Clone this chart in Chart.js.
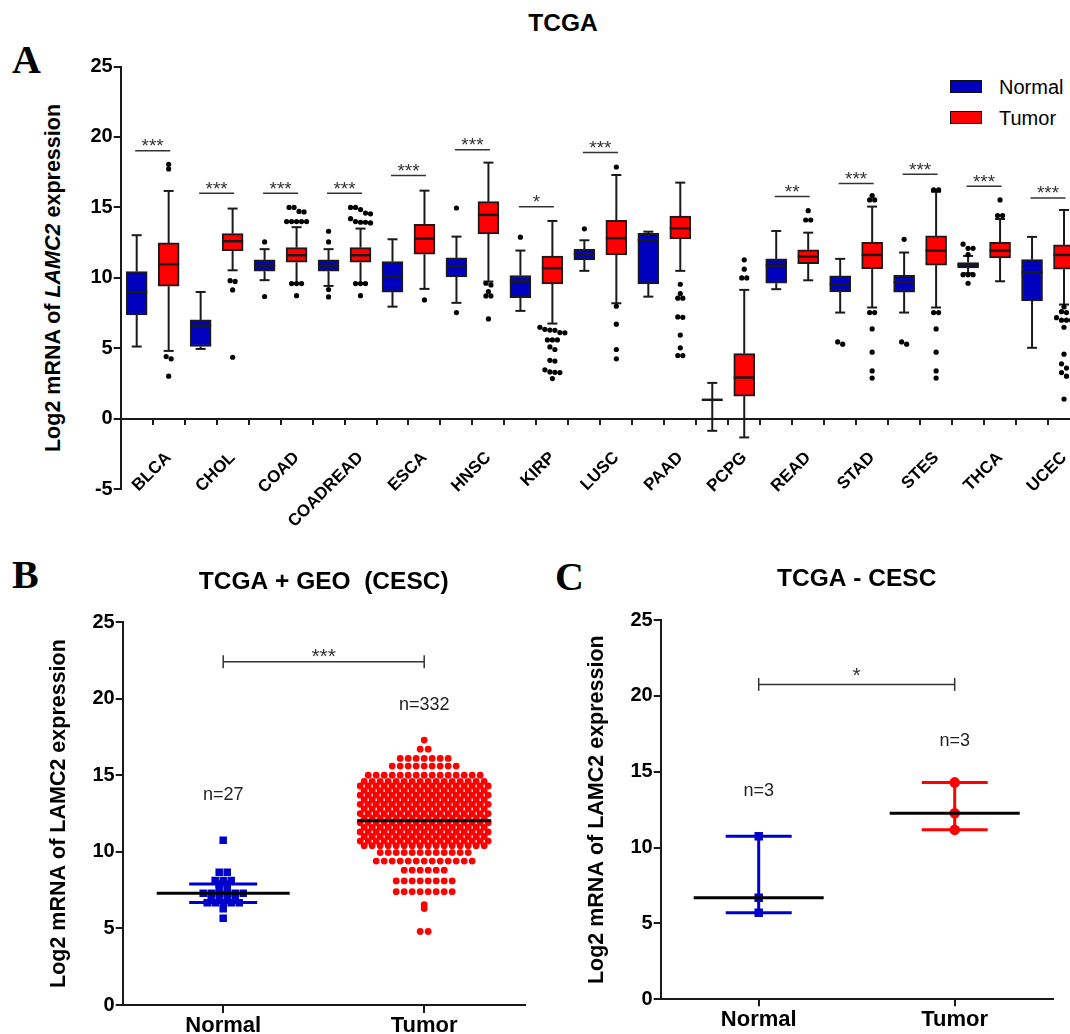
<!DOCTYPE html>
<html>
<head>
<meta charset="utf-8">
<script src="https://cdn.jsdelivr.net/npm/chart.js@4.4.1/dist/chart.umd.min.js"></script>
<style>
  html, body { margin: 0; padding: 0; background: #fff; width: 1070px; height: 1034px; overflow: hidden; }
  body { position: relative; font-family: "Liberation Sans", Arial, sans-serif; color: #000; }
  .box { position: absolute; }
  .txt { position: absolute; white-space: nowrap; line-height: 1; }
  .letter { font-family: "Liberation Serif", "Times New Roman", serif; font-weight: bold; font-size: 40px; }
  .ylab { font-weight: bold; font-size: 21.5px; transform: translate(-50%, -50%) rotate(-90deg); }
  .leg { position: absolute; width: 30px; height: 11px; border: 1px solid #111; }
  .legtxt { position: absolute; font-size: 20px; line-height: 1; }
</style>
</head>
<body>
<div class="txt letter" style="left:12px;top:40px;">A</div>
<div class="txt" style="left:563px;top:23px;font-weight:bold;font-size:24.5px;transform:translate(-50%,-50%);">TCGA</div>
<div class="txt ylab" style="left:54px;top:278px;">Log2 mRNA of <i>LAMC2</i> expression</div>
<div class="leg" style="left:950px;top:80px;background:#0000bf;"></div>
<div class="leg" style="left:950px;top:111px;background:#ff0000;"></div>
<div class="legtxt" style="left:999px;top:77px;">Normal</div>
<div class="legtxt" style="left:999px;top:108px;">Tumor</div>
<div class="txt letter" style="left:12px;top:555px;">B</div>
<div class="txt letter" style="left:555px;top:557px;">C</div>

<div class="box" style="left:0;top:0;"><canvas id="chartA" width="1084" height="545"></canvas></div>
<div class="box" style="left:0;top:555px;"><canvas id="chartB" width="540" height="500"></canvas></div>
<div class="box" style="left:540px;top:555px;"><canvas id="chartC" width="530" height="500"></canvas></div>

<script>
// ---------- A: TCGA box plots ----------
const cancerTypes = ["BLCA", "CHOL", "COAD", "COADREAD", "ESCA", "HNSC", "KIRP", "LUSC",
  "PAAD", "PCPG", "READ", "STAD", "STES", "THCA", "UCEC"];

const normalMin    = [5.13, 4.96, 9.84, 9.43, 7.96, 8.23, 7.66, 10.5, 8.67, -0.85, 9.2, 7.54, 7.54, 10.33, 5.04];
const normalQ1     = [7.38, 5.13, 10.47, 10.47, 8.99, 10.07, 8.6, 11.28, 9.57, 1.35, 9.62, 9.0, 8.99, 10.71, 8.37];
const normalMedian = [8.99, 6.62, 10.87, 10.87, 10.09, 10.83, 9.74, 11.68, 12.67, 1.35, 10.87, 9.53, 9.69, 10.92, 10.4];
const normalQ3     = [10.45, 7.02, 11.28, 11.28, 11.16, 11.42, 10.17, 12.04, 13.17, 1.35, 11.35, 10.14, 10.19, 11.09, 11.3];
const normalMax    = [13.03, 9.0, 12.04, 12.04, 12.74, 12.93, 11.94, 12.67, 13.28, 2.55, 13.33, 11.35, 11.8, 11.56, 12.91];

const tumorMin    = [4.82, 10.54, 9.62, 9.62, 9.22, 9.74, 6.76, 8.2, 10.5, -1.32, 9.83, 7.9, 7.9, 9.76, 8.11];
const tumorQ1     = [9.41, 11.94, 11.11, 11.11, 11.68, 13.12, 9.57, 11.63, 12.77, 1.61, 11.01, 10.66, 10.9, 11.42, 10.62];
const tumorMedian = [10.97, 12.6, 11.61, 11.61, 12.79, 14.47, 10.69, 12.82, 13.52, 2.93, 11.51, 11.63, 11.94, 11.94, 11.63];
const tumorQ3     = [12.48, 13.14, 12.15, 12.15, 13.8, 15.41, 11.54, 14.09, 14.38, 4.63, 11.99, 12.53, 12.98, 12.53, 12.34];
const tumorMax    = [16.17, 14.92, 13.6, 13.5, 16.19, 18.18, 14.04, 17.3, 16.76, 9.15, 13.21, 15.06, 16.12, 14.18, 14.82];

const normalOutliers = [
  [], [], [12.55, 8.68], [13.31, 12.55, 9.17, 8.65], [], [14.96, 7.54], [12.89], [13.48],
  [], [], [], [5.46, 5.3], [12.74, 5.46, 5.3], [12.39, 12.1, 12.1, 11.65, 10.23, 10.23, 10.23, 9.62], [],
];
const tumorOutliers = [
  [18.06, 17.73, 4.42, 4.26, 3.03],
  [9.8, 9.75, 9.15, 4.37],
  [15.0, 15.0, 14.72, 14.68, 14.0, 14.0, 14.0, 14.0, 14.0, 9.6, 9.6, 9.6, 8.74],
  [15.0, 15.0, 14.85, 14.6, 14.55, 14.2, 14.0, 13.95, 13.95, 13.9, 9.6, 9.6, 9.6, 8.74],
  [8.44],
  [9.62, 9.5, 9.03, 8.72, 8.72, 7.09],
  [6.5, 6.35, 6.3, 6.28, 6.12, 6.1, 5.6, 5.6, 5.6, 5.1, 4.92, 4.15, 4.1, 3.48, 3.33, 3.3, 3.28, 2.86],
  [17.87, 7.99, 6.72, 4.92, 4.26],
  [9.55, 8.89, 8.56, 8.56, 7.23, 7.2, 5.94, 5.04, 4.49, 4.49],
  [11.28, 10.62, 10.0, 10.0],
  [14.77, 14.11, 14.11],
  [15.84, 15.53, 15.53, 7.54, 7.54, 6.38, 4.73, 3.4, 2.89],
  [16.24, 16.24, 7.54, 7.54, 6.38, 4.73, 3.4, 2.89],
  [15.53, 14.42, 14.42],
  [7.94, 7.6, 7.54, 7.18, 7.0, 7.0, 7.0, 6.5, 4.59, 3.9, 3.6, 3.28, 3.03, 1.4],
];

const sigMarks = ["***", "***", "***", "***", "***", "***", "*", "***", "", "", "**", "***", "***", "***", "***"];
const sigLevel = [19.03, 16.0, 16.0, 16.0, 17.26, 19.1, 15.04, 18.9, null, null, 15.77, 16.7, 17.35, 16.5, 15.67];

// ---------- B: TCGA + GEO (CESC) dot plot ----------
const bGroups = ["Normal", "Tumor"];
const bNormalLevels = [10.75, 8.66, 8.13, 7.9, 7.6, 7.3, 6.95, 6.68, 6.28, 5.67];
const bNormalCounts = [1, 2, 3, 2, 2, 6, 4, 5, 1, 1];
const bTumorLevels = [17.3, 16.7, 16.1, 15.6, 15.0, 14.6, 14.3, 14.0, 13.7, 13.4, 13.1, 12.8, 12.5, 12.2,
  11.9, 11.6, 11.3, 11.0, 10.7, 10.4, 9.95, 9.4, 8.8, 8.1, 7.4, 6.55, 6.3, 4.8];
const bTumorCounts = [1, 2, 7, 9, 15, 16, 17, 16, 17, 16, 17, 16, 17, 16,
  17, 16, 17, 16, 17, 16, 12, 13, 6, 8, 8, 1, 1, 2];
const bNormalMedian = 7.3;
const bNormalIQR = [6.7, 7.9];
const bTumorMedian = 12.03;
const bNLabels = ["n=27", "n=332"];
const bNLabelY = [13.7, 19.6];
const bSig = "***";
const bSigY = 22.41;

// ---------- C: TCGA - CESC ----------
const cGroups = ["Normal", "Tumor"];
const cNormal = [10.75, 6.7, 5.7];
const cTumor = [14.3, 12.27, 11.17];
const cNLabels = ["n=3", "n=3"];
const cNLabelY = [13.76, 17.0];
const cSig = "*";
const cSigY = 20.76;

// ---------- styles ----------
const BLUE = "#0000bf";
const DOT_BLUE = "#0000cc";
const RED = "#ff0000";
const INK = "#1a1a1a";
const FONT = "'Liberation Sans', Arial, sans-serif";

Chart.defaults.font.family = FONT;
Chart.defaults.color = "#000";
Chart.defaults.animation = false;
Chart.defaults.plugins.legend.display = false;
Chart.defaults.plugins.tooltip.enabled = false;

function seg(ctx, x1, y1, x2, y2) {
  ctx.beginPath();
  ctx.moveTo(x1, y1);
  ctx.lineTo(x2, y2);
  ctx.stroke();
}

function median(arr) {
  const s = [...arr].sort((a, b) => a - b);
  const m = Math.floor(s.length / 2);
  return s.length % 2 ? s[m] : (s[m - 1] + s[m]) / 2;
}

// outliers that sit at nearly the same value are put side by side
function dodge(values, pos, unitPerPx) {
  const out = [];
  const sorted = [...values].sort((a, b) => b - a);
  let i = 0;
  while (i < sorted.length) {
    let j = i;
    while (j + 1 < sorted.length && sorted[j] - sorted[j + 1] < 0.3) j++;
    const n = j - i + 1;
    for (let k = 0; k < n; k++) {
      out.push({ x: pos + (k - (n - 1) / 2) * 5 * unitPerPx, y: sorted[i + k] });
    }
    i = j + 1;
  }
  return out;
}

// rows of dots centred on the group position
function rows(levels, counts, pos, gapPx, unitPerPx) {
  const out = [];
  levels.forEach((v, r) => {
    const n = counts[r];
    for (let k = 0; k < n; k++) {
      out.push({ x: pos + (k - (n - 1) / 2) * gapPx * unitPerPx, y: v });
    }
  });
  return out;
}

function axisY(width, min, max, extra) {
  return Object.assign({
    type: "linear", min, max,
    afterFit: (s) => { s.width = width; },
    ticks: { stepSize: 5, padding: 1, font: { size: 20, weight: "bold" }, color: "#000" },
    grid: { drawOnChartArea: false, drawTicks: true, tickLength: 7, color: INK, lineWidth: 2 },
    border: { display: true, color: INK, width: 2 },
  }, extra || {});
}

// ---------- chart A ----------
const boxParts = {
  id: "boxParts",
  beforeDatasetsDraw(chart) {
    const { ctx, scales: { x, y } } = chart;
    ctx.save();
    ctx.strokeStyle = INK;
    ctx.lineWidth = 2;
    cancerTypes.forEach((c, i) => {
      [[2 * i, normalMin[i], normalQ1[i], normalQ3[i], normalMax[i]],
       [2 * i + 1, tumorMin[i], tumorQ1[i], tumorQ3[i], tumorMax[i]]].forEach(([pos, lo, q1, q3, hi]) => {
        const px = x.getPixelForValue(pos);
        seg(ctx, px, y.getPixelForValue(q3), px, y.getPixelForValue(hi));
        seg(ctx, px, y.getPixelForValue(q1), px, y.getPixelForValue(lo));
        seg(ctx, px - 5, y.getPixelForValue(hi), px + 5, y.getPixelForValue(hi));
        seg(ctx, px - 5, y.getPixelForValue(lo), px + 5, y.getPixelForValue(lo));
      });
    });
    ctx.restore();
  },
  afterDatasetsDraw(chart) {
    const { ctx, scales: { x, y } } = chart;
    ctx.save();
    ctx.strokeStyle = INK;
    ctx.lineWidth = 2.5;
    cancerTypes.forEach((c, i) => {
      [[2 * i, normalMedian[i]], [2 * i + 1, tumorMedian[i]]].forEach(([pos, m]) => {
        const px = x.getPixelForValue(pos);
        const py = y.getPixelForValue(m);
        seg(ctx, px - 10.5, py, px + 10.5, py);
      });
    });
    ctx.strokeStyle = "#333";
    ctx.fillStyle = "#333";
    ctx.lineWidth = 1.5;
    ctx.font = "19px " + FONT;
    ctx.textAlign = "center";
    ctx.textBaseline = "alphabetic";
    cancerTypes.forEach((c, i) => {
      if (sigLevel[i] == null) return;
      const cx = x.getPixelForValue(2 * i + 0.5);
      const py = y.getPixelForValue(sigLevel[i]);
      seg(ctx, cx - 17.5, py, cx + 17.5, py);
      ctx.fillText(sigMarks[i], cx, py + 1.5);
    });
    ctx.restore();
  },
};

const chartA = new Chart(document.getElementById("chartA"), {
  type: "bar",
  data: {
    datasets: [
      {
        label: "Normal",
        data: cancerTypes.map((c, i) => ({ x: 2 * i, y: [normalQ1[i], normalQ3[i]] })),
        backgroundColor: BLUE, borderColor: INK, borderWidth: 2, borderSkipped: false,
        barThickness: 21, grouped: false,
      },
      {
        label: "Tumor",
        data: cancerTypes.map((c, i) => ({ x: 2 * i + 1, y: [tumorQ1[i], tumorQ3[i]] })),
        backgroundColor: RED, borderColor: INK, borderWidth: 2, borderSkipped: false,
        barThickness: 21, grouped: false,
      },
      { type: "scatter", label: "outliers", data: [], pointRadius: 2.6, pointBackgroundColor: "#000", pointBorderWidth: 0 },
    ],
  },
  options: {
    responsive: false,
    layout: { padding: { left: 0, top: 66.5, right: 3, bottom: 55.7 } },
    scales: {
      x: {
        type: "linear", min: -0.5, max: 29.5, offset: false, position: { y: 0 },
        afterBuildTicks: (s) => { s.ticks = cancerTypes.flatMap((c, i) => [{ value: 2 * i }, { value: 2 * i + 1 }]); },
        afterFit: (s) => { s.paddingLeft = 0; s.paddingRight = 0; },
        ticks: {
          autoSkip: false, minRotation: 45, maxRotation: 45, padding: 24,
          font: { size: 17, weight: "bold" }, color: "#000",
          callback: (v, idx) => (idx % 2 === 1 ? cancerTypes[(idx - 1) / 2] : ""),
        },
        grid: { drawOnChartArea: false, drawTicks: true, tickLength: 5, color: INK, lineWidth: 2 },
        border: { display: true, color: INK, width: 2 },
      },
      y: axisY(120.7, -5, 25),
    },
  },
  plugins: [boxParts],
});

{
  const sx = chartA.scales.x;
  const upp = 1 / (sx.getPixelForValue(1) - sx.getPixelForValue(0));
  chartA.data.datasets[2].data = cancerTypes.flatMap((c, i) => [
    ...dodge(normalOutliers[i], 2 * i, upp),
    ...dodge(tumorOutliers[i], 2 * i + 1, upp),
  ]);
  chartA.update("none");
}

// ---------- shared helpers for B and C ----------
function annotations(id, labels, labelY, sig, sigY, sigDrop) {
  return {
    id,
    afterDatasetsDraw(chart) {
      const { ctx, scales: { x, y } } = chart;
      ctx.save();
      ctx.fillStyle = "#222";
      ctx.font = "18px " + FONT;
      ctx.textAlign = "center";
      ctx.textBaseline = "middle";
      labels.forEach((t, i) => ctx.fillText(t, x.getPixelForValue(i), y.getPixelForValue(labelY[i])));
      const x0 = x.getPixelForValue(0), x1 = x.getPixelForValue(1), py = y.getPixelForValue(sigY);
      ctx.strokeStyle = "#333";
      ctx.lineWidth = 1.5;
      seg(ctx, x0, py, x1, py);
      seg(ctx, x0, py - 6.5, x0, py + 6.5);
      seg(ctx, x1, py - 6.5, x1, py + 6.5);
      ctx.fillStyle = "#333";
      ctx.font = "21px " + FONT;
      ctx.textBaseline = "alphabetic";
      ctx.fillText(sig, (x0 + x1) / 2, py + sigDrop);
      ctx.restore();
    },
  };
}

function groupAxisX(names, tickLen) {
  return {
    type: "linear", min: -0.5, max: 1.5, offset: false,
    afterBuildTicks: (s) => { s.ticks = names.map((n, i) => ({ value: i })); },
    afterFit: (s) => { s.height = 30; s.paddingLeft = 0; s.paddingRight = 0; },
    ticks: { autoSkip: false, maxRotation: 0, padding: 0, font: { size: 22, weight: "bold" }, color: "#000",
      callback: (v, idx) => names[idx] },
    grid: { drawOnChartArea: false, drawTicks: true, tickLength: tickLen, color: INK, lineWidth: 2 },
    border: { display: true, color: INK, width: 2 },
  };
}

function yTitle(pad) {
  return { display: true, text: "Log2 mRNA of LAMC2 expression", color: "#000",
    font: { size: 21.5, weight: "bold" }, padding: { top: pad, bottom: 0 } };
}

// ---------- chart B ----------
const bLines = {
  id: "bLines",
  afterDatasetsDraw(chart) {
    const { ctx, scales: { x, y } } = chart;
    ctx.save();
    ctx.lineWidth = 3;
    ctx.strokeStyle = DOT_BLUE;
    const nx = x.getPixelForValue(0), tx = x.getPixelForValue(1);
    bNormalIQR.forEach((v) => seg(ctx, nx - 34, y.getPixelForValue(v), nx + 34, y.getPixelForValue(v)));
    ctx.strokeStyle = "#000";
    seg(ctx, nx - 66.5, y.getPixelForValue(bNormalMedian), nx + 66.5, y.getPixelForValue(bNormalMedian));
    seg(ctx, tx - 67, y.getPixelForValue(bTumorMedian), tx + 67, y.getPixelForValue(bTumorMedian));
    ctx.restore();
  },
};

const chartB = new Chart(document.getElementById("chartB"), {
  type: "scatter",
  data: {
    datasets: [
      { label: "Normal", data: [], pointStyle: "rect", pointRadius: 5.3, pointBackgroundColor: DOT_BLUE, pointBorderWidth: 0 },
      { label: "Tumor", data: [], pointStyle: "circle", pointRadius: 3.4, pointBackgroundColor: RED, pointBorderWidth: 0 },
    ],
  },
  options: {
    responsive: false,
    layout: { padding: { left: 0, top: 0, right: 15.3, bottom: 20 } },
    plugins: {
      title: { display: true, text: "TCGA + GEO  (CESC)", fullSize: false, color: "#000",
        font: { size: 24.5, weight: "bold" }, padding: { top: 12.7, bottom: 25 } },
    },
    scales: {
      x: groupAxisX(bGroups, 8),
      y: axisY(122.7, 0, 25, { title: yTitle(46) }),
    },
  },
  plugins: [bLines, annotations("bNotes", bNLabels, bNLabelY, bSig, bSigY, 1)],
});

{
  const sx = chartB.scales.x;
  const upp = 1 / (sx.getPixelForValue(1) - sx.getPixelForValue(0));
  chartB.data.datasets[0].data = rows(bNormalLevels, bNormalCounts, 0, 8, upp);
  chartB.data.datasets[1].data = rows(bTumorLevels, bTumorCounts, 1, 8, upp);
  chartB.update("none");
}

// ---------- chart C ----------
const cLines = {
  id: "cLines",
  beforeDatasetsDraw(chart) {
    const { ctx, scales: { x, y } } = chart;
    ctx.save();
    ctx.lineWidth = 3;
    [[cNormal, 0, DOT_BLUE], [cTumor, 1, RED]].forEach(([vals, pos, col]) => {
      const px = x.getPixelForValue(pos);
      const lo = y.getPixelForValue(Math.min(...vals)), hi = y.getPixelForValue(Math.max(...vals));
      ctx.strokeStyle = col;
      seg(ctx, px, lo, px, hi);
      seg(ctx, px - 33, lo, px + 33, lo);
      seg(ctx, px - 33, hi, px + 33, hi);
    });
    ctx.restore();
  },
  afterDatasetsDraw(chart) {
    const { ctx, scales: { x, y } } = chart;
    ctx.save();
    ctx.lineWidth = 3;
    ctx.strokeStyle = "#000";
    [[cNormal, 0], [cTumor, 1]].forEach(([vals, pos]) => {
      const px = x.getPixelForValue(pos), py = y.getPixelForValue(median(vals));
      seg(ctx, px - 65, py, px + 65, py);
    });
    ctx.restore();
  },
};

new Chart(document.getElementById("chartC"), {
  type: "scatter",
  data: {
    datasets: [
      { label: "Normal", data: cNormal.map((v) => ({ x: 0, y: v })), pointStyle: "rect", pointRadius: 6,
        pointBackgroundColor: DOT_BLUE, pointBorderWidth: 0 },
      { label: "Tumor", data: cTumor.map((v) => ({ x: 1, y: v })), pointStyle: "circle", pointRadius: 5.3,
        pointBackgroundColor: RED, pointBorderWidth: 0 },
    ],
  },
  options: {
    responsive: false,
    layout: { padding: { left: 0, top: 0, right: 17.3, bottom: 25.7 } },
    plugins: {
      title: { display: true, text: "TCGA - CESC", fullSize: false, color: "#000",
        font: { size: 24.5, weight: "bold" }, padding: { top: 10, bottom: 25.7 } },
    },
    scales: {
      x: groupAxisX(cGroups, 7),
      y: axisY(120.7, 0, 25, { title: yTitle(44.1) }),
    },
  },
  plugins: [cLines, annotations("cNotes", cNLabels, cNLabelY, cSig, cSigY, -2)],
});
</script>
</body>
</html>
